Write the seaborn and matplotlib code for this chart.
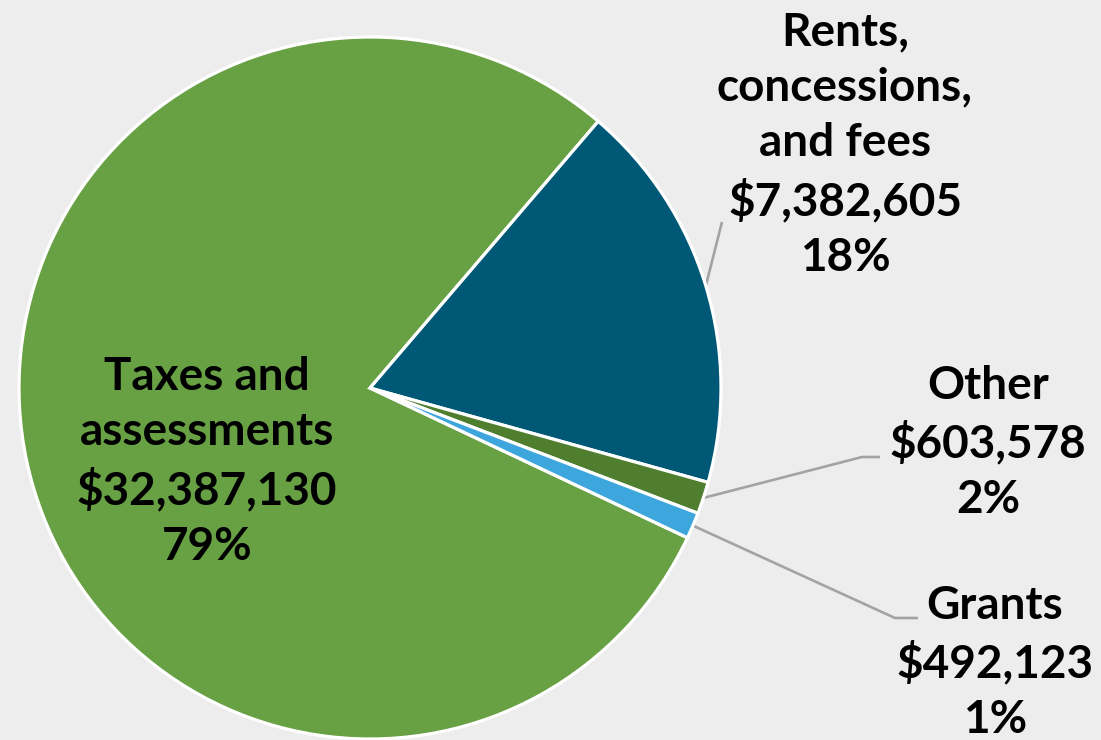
import numpy as np
import matplotlib
matplotlib.use("Agg")
import matplotlib.pyplot as plt
import seaborn as sns

# ---- data ----
categories = ["Taxes and\nassessments", "Rents,\nconcessions,\nand fees", "Other", "Grants"]
values = [32387130, 7382605, 603578, 492123]
pct_labels = ["79%", "18%", "2%", "1%"]
colors = ["#68A044", "#005877", "#4E7E2E", "#3DA6DD"]

BG = "#EDEDED"
sns.set_theme(style="white")
plt.rcParams["font.family"] = ["Lato", "DejaVu Sans"]

W, H = 1101, 740
fig = plt.figure(figsize=(W / 100, H / 100), dpi=100, facecolor=BG)
ax = fig.add_axes([0, 0, 1, 1], facecolor=BG)

cx, cy, r = 370, H - 388, 351
wedges, _ = ax.pie(values, colors=colors, startangle=334.75, counterclock=False,
                   center=(cx, cy), radius=r, frame=True,
                   wedgeprops=dict(edgecolor="white", linewidth=2.3))
ax.set_xlim(0, W)
ax.set_ylim(0, H)
ax.set_aspect("equal")
ax.axis("off")

def fmt(i):
    return f"{categories[i]}\n${values[i]:,}\n{pct_labels[i]}"

fs = 33
tkw = dict(ha="center", va="center", fontsize=fs, fontweight="bold", color="black",
           linespacing=1.4)

# label positions (pixel coordinates, y from top) and leader-line elbows
label_pos = [(207, 462), (845, 145), (988, 443), (995, 663)]
elbows = [None, [(722, 222)], [(862, 457), (880, 457)], [(895, 618), (918, 618)]]

for i, w in enumerate(wedges):
    x, y = label_pos[i]
    ax.text(x, H - y, fmt(i), **tkw)
    if elbows[i] is not None:
        th = np.deg2rad((w.theta1 + w.theta2) / 2)
        pts = [(cx + r * np.cos(th), cy + r * np.sin(th))] + [(ex, H - ey) for ex, ey in elbows[i]]
        xs, ys = zip(*pts)
        ax.plot(xs, ys, color="#A3A3A3", lw=1.9, solid_capstyle="butt", zorder=0.5)

fig.savefig("out.png", dpi=100, facecolor=BG)
